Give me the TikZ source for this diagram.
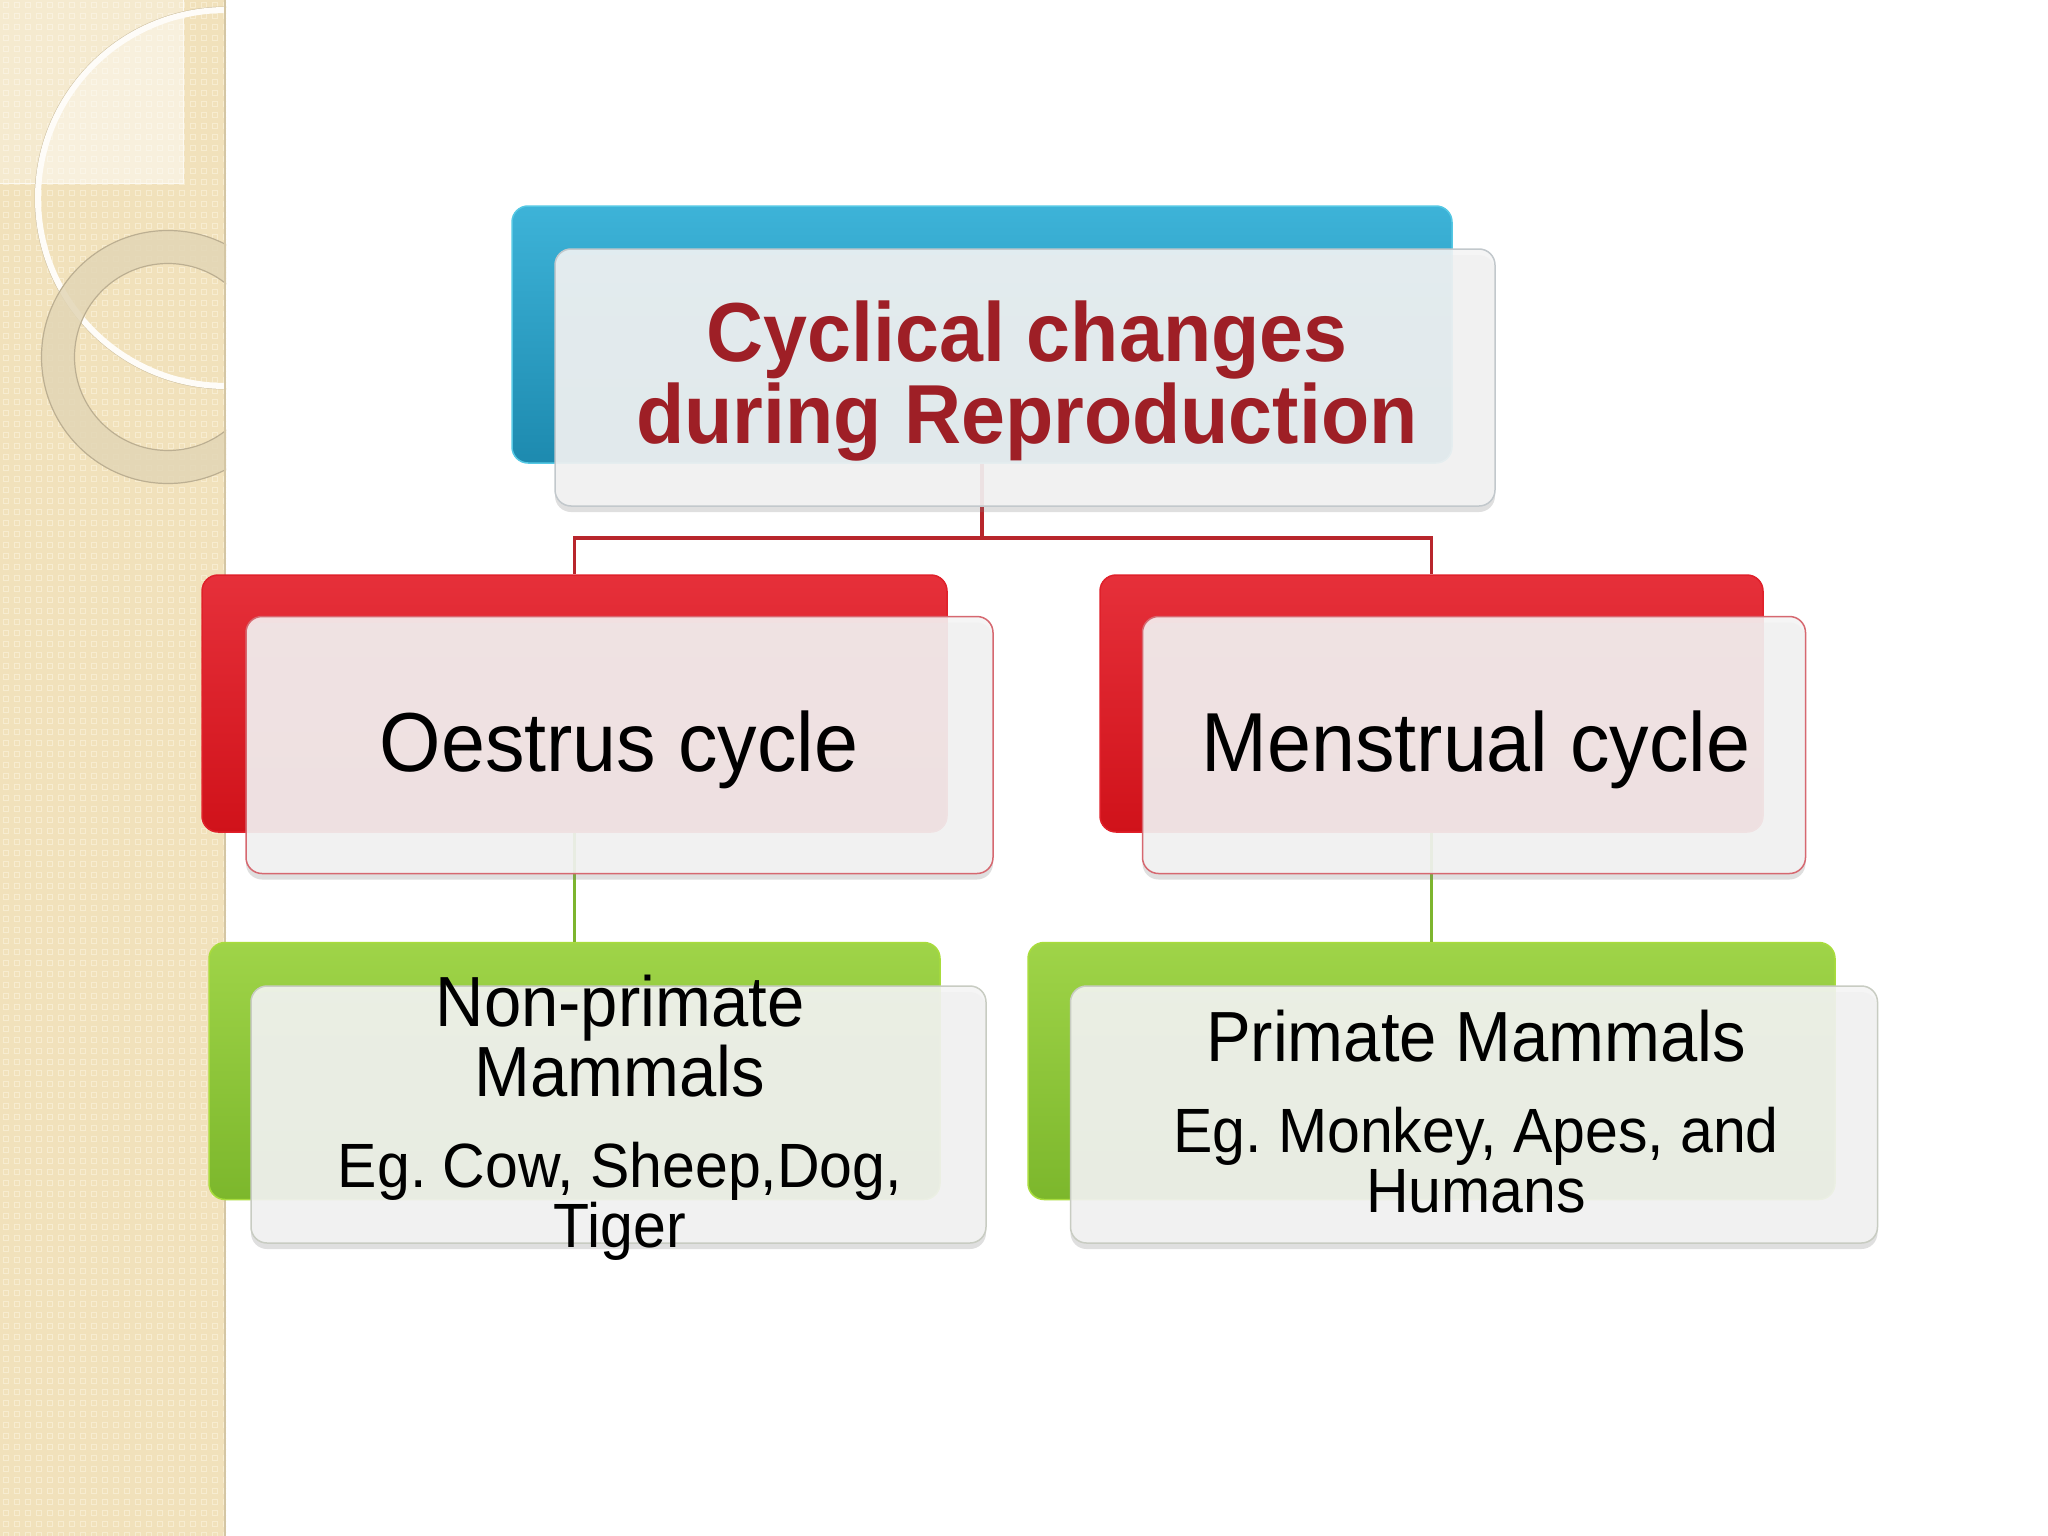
\documentclass[tikz,border=0pt]{standalone}
\usepackage{graphicx}
\usepackage{fontspec}
\setmainfont{Liberation Sans}
\usetikzlibrary{shadows}
\definecolor{titlered}{HTML}{9E1F26}
\definecolor{stripbg}{HTML}{F1E1BB}
\definecolor{stripdot}{HTML}{F7ECD0}
\definecolor{ringcol}{HTML}{E2D6B6}
\definecolor{blueA}{HTML}{3DB3D8}
\definecolor{blueB}{HTML}{1D8AAF}
\definecolor{blueE}{HTML}{55C8E4}
\definecolor{redA}{HTML}{E6303A}
\definecolor{redB}{HTML}{D0121A}
\definecolor{redE}{HTML}{E0202A}
\definecolor{greenA}{HTML}{9FD448}
\definecolor{greenB}{HTML}{7CB72C}
\definecolor{greenE}{HTML}{A8DC3C}
\definecolor{frontfill}{HTML}{F4F4F4}
\definecolor{greyedge}{HTML}{C2C8CC}
\definecolor{rededge}{HTML}{D66870}
\definecolor{greenedge}{HTML}{C8CCC2}
\definecolor{linered}{HTML}{B8262C}
\definecolor{linegreen}{HTML}{7DB52E}
\newcommand{\mystretch}[1]{\scalebox{1}[1.06]{#1}}
\frenchspacing
\tikzset{
  bk/.style={rounded corners=16pt, draw, line width=1.5pt, minimum height=257pt, inner sep=0pt},
  bluebk/.style={bk, draw=blueE, top color=blueA, bottom color=blueB},
  redbk/.style={bk, draw=redE, top color=redA, bottom color=redB},
  greenbk/.style={bk, draw=greenE, top color=greenA, bottom color=greenB},
  fr/.style={rounded corners=16pt, draw, line width=1.5pt, minimum height=257pt, inner sep=0pt,
     fill=frontfill, fill opacity=0.9,
     drop shadow={shadow xshift=0pt, shadow yshift=-6pt, opacity=0.25}},
  greyfr/.style={fr, draw=greyedge},
  redfr/.style={fr, draw=rededge},
  greenfr/.style={fr, draw=greenedge},
  redline/.style={draw=linered, line width=3.5pt},
  greenline/.style={draw=linegreen, line width=3.5pt},
  txt/.style={inner sep=0pt, anchor=base},
  ttl/.style={txt, text=titlered, font=\fontsize{79pt}{82pt}\selectfont\bfseries},
  mid/.style={txt, text=black, font=\fontsize{79pt}{82pt}\selectfont},
  big/.style={txt, text=black, font=\fontsize{67pt}{70pt}\selectfont},
  small/.style={txt, text=black, font=\fontsize{59pt}{60pt}\selectfont},
}
\begin{document}
\begin{tikzpicture}[x=1pt,y=-1pt]
\useasboundingbox (0,0) rectangle (2048,1536);
\fill[white] (0,0) rectangle (2048,1536);

% decorative left strip
\begin{scope}
  \clip (0,0) rectangle (226,1536);
  \fill[stripbg] (0,0) rectangle (226,1536);
  \foreach \i in {0,...,20}{
    \foreach \j in {0,...,139}{
      \draw[stripdot, line width=1pt] (\i*11+3,\j*11+3) rectangle ++(5,5);
    }
  }
  \fill[white, opacity=0.3] (0,0) rectangle (183,183);
  \draw[white!80!stripbg, line width=1pt] (183,0) -- (183,183) -- (0,183);
  \begin{scope}
    \clip (226,198) circle (188);
    \fill[white, opacity=0.3] (0,0) rectangle (183,183);
  \end{scope}
  \draw[black!15!stripbg, line width=1pt] (226,198) circle (191);
  \draw[white!90!stripbg, line width=6pt] (226,198) circle (188);
  \draw[ringcol, line width=33pt, opacity=0.85] (168,357) circle (110);
  \draw[black!22!stripbg, line width=1.2pt] (168,357) circle (126.5);
  \draw[black!22!stripbg, line width=1.2pt] (168,357) circle (93.5);
  \draw[black!12!stripbg, line width=2pt] (225,0) -- (225,1536);
\end{scope}

% back boxes
\node[bluebk, minimum width=940pt] (topbk) at (982,334.5) {};
\node[redbk, minimum width=745pt] (lrbk) at (574.5,703.5) {};
\node[redbk, minimum width=663pt] (rrbk) at (1431.5,703.5) {};
\node[greenbk, minimum width=731pt] (lgbk) at (574.5,1071) {};
\node[greenbk, minimum width=807pt] (rgbk) at (1431.5,1071) {};

% connectors (behind front boxes)
\draw[redline] (topbk.south) -- ++(0,74) -| (lrbk.north);
\draw[redline] (topbk.south) -- ++(0,74) -| (rrbk.north);
\draw[greenline] (lrbk.south) -- (lgbk.north);
\draw[greenline] (rrbk.south) -- (rgbk.north);

% front boxes
\node[greyfr, minimum width=940pt] (topfr) at (1025,377.5) {};
\node[redfr, minimum width=747pt] (lrfr) at (619.5,745) {};
\node[redfr, minimum width=663pt] (rrfr) at (1474,745) {};
\node[greenfr, minimum width=735pt] (lgfr) at (618.5,1114.5) {};
\node[greenfr, minimum width=807pt] (rgfr) at (1474,1114.5) {};

% texts
\node[ttl] (t1) at (1027,361) {\mystretch{Cyclical changes}};
\node[ttl] (t2) at (1027,443) {\mystretch{during Reproduction}};
\node[mid] (oe) at (619,771) {\mystretch{Oestrus cycle}};
\node[mid] (me) at (1476,771) {\mystretch{Menstrual cycle}};
\node[big] (np1) at (620,1026) {\mystretch{Non-primate}};
\node[big] (np2) at (620,1096) {\mystretch{Mammals}};
\node[small] (np3) at (620,1187) {\mystretch{Eg. Cow, Sheep,Dog,}};
\node[small] (np4) at (620,1247) {\mystretch{Tiger}};
\node[big] (pm1) at (1476,1061) {\mystretch{Primate Mammals}};
\node[small] (pm2) at (1476,1152) {\mystretch{Eg. Monkey, Apes, and}};
\node[small] (pm3) at (1476,1212) {\mystretch{Humans}};
\end{tikzpicture}
\end{document}
